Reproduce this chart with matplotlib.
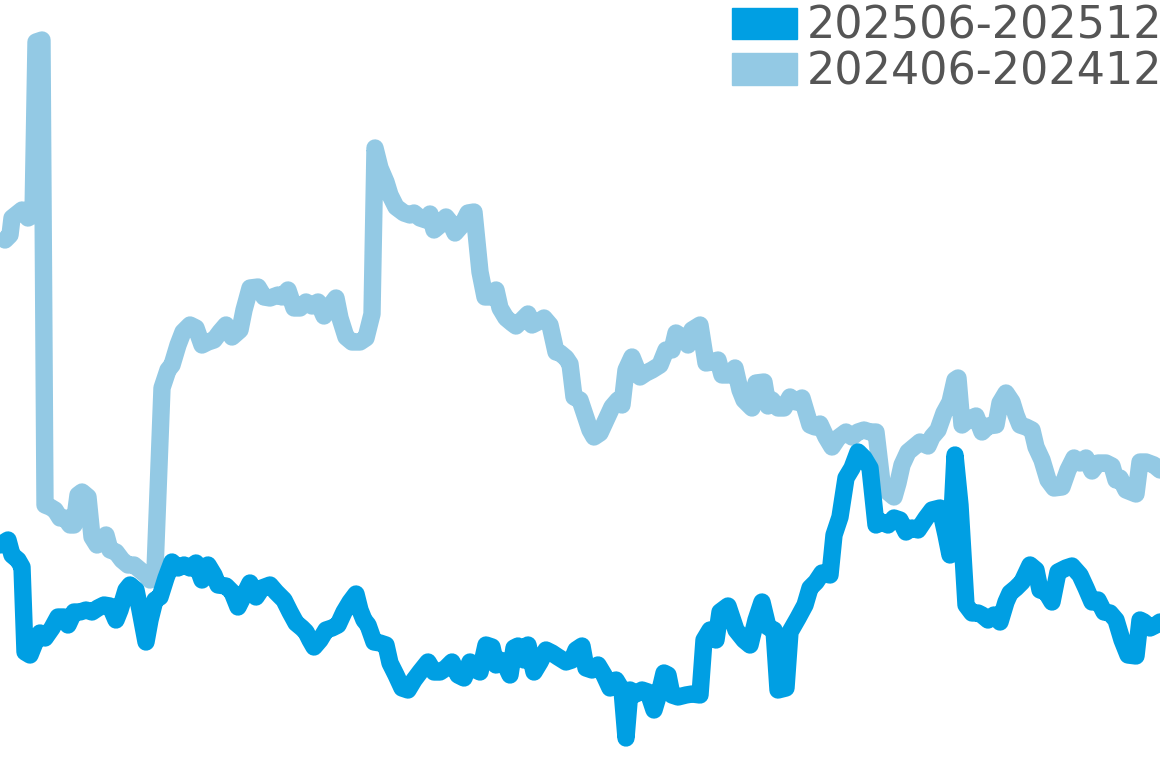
import matplotlib
matplotlib.use('Agg')
import matplotlib.pyplot as plt
from matplotlib.patches import Patch

# values (arbitrary units), t = position along the period
t_2024 = [5, 10, 12, 22, 28, 33, 36, 42, 45, 50, 55, 60, 65, 70, 74, 78, 82, 88, 92, 97,
          102, 106, 110, 116, 122, 128, 134, 140, 146, 150, 155, 162, 168, 172, 178, 183, 190, 196, 202, 208,
          214, 220, 226, 232, 240, 244, 250, 258, 264, 270, 278, 282, 288, 294, 300, 306, 312, 318, 324, 330,
          336, 340, 346, 352, 360, 366, 372, 375, 380, 386, 390, 396, 404, 410, 414, 420, 426, 430, 434, 440,
          446, 450, 455, 462, 468, 474, 480, 485, 490, 496, 500, 506, 512, 516, 522, 528, 532, 538, 544, 550,
          556, 560, 566, 570, 574, 580, 586, 590, 594, 600, 606, 612, 618, 622, 626, 632, 640, 646, 652, 660,
          666, 672, 676, 682, 688, 692, 700, 706, 712, 718, 722, 728, 735, 740, 744, 752, 756, 764, 768, 772,
          778, 784, 790, 796, 802, 810, 815, 820, 826, 832, 838, 846, 852, 858, 864, 870, 876, 882, 888, 894,
          898, 902, 908, 914, 920, 928, 932, 938, 944, 950, 955, 958, 962, 968, 976, 982, 988, 996, 1000, 1006,
          1012, 1016, 1020, 1026, 1032, 1036, 1042, 1048, 1054, 1062, 1068, 1074, 1080, 1086, 1092, 1098, 1106, 1112, 1116, 1120,
          1126, 1136, 1140, 1146, 1154, 1160]
v_2024 = [528, 533, 550, 558, 550, 553, 726, 728, 263, 261, 258, 250, 250, 243, 243, 273, 276, 271, 231, 223,
          228, 233, 218, 216, 208, 203, 203, 198, 193, 188, 198, 380, 398, 403, 423, 436, 443, 440, 423, 426,
          428, 436, 443, 431, 438, 458, 480, 481, 471, 470, 473, 471, 478, 460, 460, 466, 462, 466, 452, 462,
          470, 450, 431, 426, 426, 430, 454, 620, 600, 586, 573, 561, 555, 553, 555, 550, 548, 554, 538, 543,
          551, 546, 535, 543, 555, 556, 496, 471, 471, 478, 460, 450, 445, 442, 448, 454, 443, 446, 450, 443,
          416, 415, 410, 404, 371, 368, 350, 338, 331, 335, 348, 361, 368, 363, 398, 411, 391, 395, 398, 403,
          418, 418, 435, 431, 423, 438, 443, 405, 406, 408, 393, 393, 400, 378, 368, 360, 385, 386, 362, 368,
          360, 360, 371, 366, 370, 343, 341, 344, 331, 321, 330, 336, 331, 336, 338, 336, 336, 285, 276, 271,
          285, 303, 316, 321, 326, 322, 331, 338, 355, 366, 388, 390, 343, 348, 352, 336, 342, 343, 365, 375,
          366, 353, 343, 341, 338, 321, 308, 288, 280, 281, 298, 310, 305, 310, 297, 305, 305, 302, 288, 290,
          278, 274, 306, 306, 303, 298]

t_2025 = [0, 8, 12, 18, 22, 25, 30, 36, 40, 45, 52, 58, 64, 68, 74, 80, 86, 92, 98, 104,
          110, 116, 120, 126, 130, 136, 140, 146, 150, 155, 160, 166, 172, 178, 184, 190, 196, 202, 208, 214,
          218, 226, 232, 238, 244, 250, 256, 262, 270, 276, 284, 290, 296, 302, 306, 310, 314, 320, 326, 332,
          338, 344, 350, 356, 360, 364, 368, 374, 380, 386, 390, 396, 402, 408, 414, 420, 428, 434, 440, 446,
          452, 458, 464, 470, 476, 480, 486, 492, 496, 500, 504, 510, 514, 518, 524, 528, 534, 540, 546, 552,
          558, 566, 572, 576, 582, 586, 592, 598, 604, 610, 616, 622, 626, 630, 636, 642, 648, 654, 660, 664,
          668, 672, 678, 686, 692, 700, 704, 710, 716, 720, 728, 736, 744, 750, 756, 762, 768, 774, 778, 786,
          790, 798, 805, 810, 816, 822, 830, 834, 840, 846, 852, 858, 864, 870, 876, 882, 888, 894, 900, 906,
          912, 918, 926, 932, 940, 946, 950, 955, 960, 966, 972, 978, 982, 988, 994, 1000, 1006, 1010, 1016, 1022,
          1030, 1036, 1040, 1046, 1052, 1058, 1066, 1072, 1080, 1086, 1092, 1098, 1104, 1110, 1116, 1122, 1128, 1136, 1140, 1144,
          1150, 1156, 1160]
v_2025 = [223, 228, 213, 208, 201, 116, 113, 128, 135, 130, 140, 151, 151, 143, 156, 156, 158, 156, 160, 163,
          162, 148, 158, 178, 183, 178, 158, 126, 148, 168, 171, 190, 206, 200, 203, 200, 205, 188, 203, 193,
          183, 182, 176, 161, 173, 185, 171, 180, 183, 176, 168, 156, 145, 140, 136, 128, 121, 128, 138, 140,
          143, 156, 166, 174, 158, 148, 143, 126, 125, 123, 105, 93, 80, 78, 88, 96, 106, 96, 96, 100,
          106, 93, 90, 106, 98, 96, 123, 121, 103, 108, 106, 93, 120, 122, 108, 123, 96, 106, 118, 115,
          111, 106, 108, 118, 122, 100, 98, 103, 93, 80, 88, 78, 30, 78, 74, 78, 76, 58, 78, 95,
          93, 73, 71, 73, 74, 73, 128, 138, 128, 156, 162, 138, 128, 123, 148, 166, 141, 138, 78, 80,
          136, 150, 163, 180, 186, 195, 193, 233, 251, 290, 300, 316, 310, 300, 243, 246, 243, 250, 248, 236,
          240, 238, 250, 258, 260, 233, 213, 313, 263, 163, 155, 155, 153, 148, 153, 146, 166, 175, 180, 186,
          203, 198, 178, 176, 166, 196, 200, 202, 193, 180, 166, 168, 156, 155, 148, 128, 113, 112, 148, 146,
          140, 143, 146]

labels = ['202506-202512', '202406-202412']
c_2025 = '#009fe3'
c_2024 = '#93c9e4'

fig = plt.figure(figsize=(11.6, 7.68), dpi=100)
ax = fig.add_axes([0, 0, 1, 1])

ax.plot(t_2024, v_2024, color=c_2024, linewidth=12.5,
        solid_joinstyle='round', solid_capstyle='round')
ax.plot(t_2025, v_2025, color=c_2025, linewidth=12.5,
        solid_joinstyle='round', solid_capstyle='round')

ax.set_xlim(0, 1160)
ax.set_ylim(0, 768)
ax.axis('off')

handles = [Patch(color=c_2025), Patch(color=c_2024)]
leg = ax.legend(handles, labels, loc='upper right', frameon=False, fontsize=32,
                handlelength=1.45, handleheight=0.72, handletextpad=0.22,
                labelspacing=0.05, borderaxespad=0, borderpad=0,
                bbox_to_anchor=(1.002, 0.9935))
for txt in leg.get_texts():
    txt.set_color('#555555')

fig.savefig('out.png', dpi=100)
